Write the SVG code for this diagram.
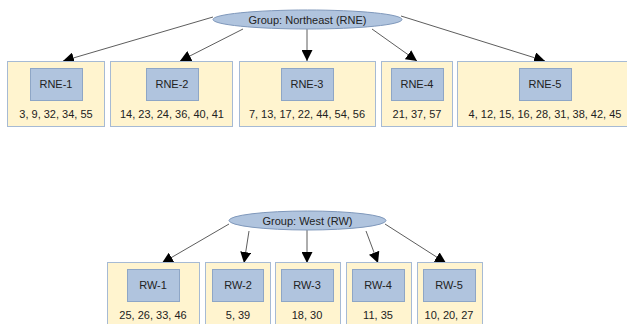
<svg xmlns="http://www.w3.org/2000/svg" width="627" height="324" viewBox="0 0 627 324">
<style>
.c{fill:#fff4cf;stroke:#a6bad4;stroke-width:1}
.b{fill:#b0c4de;stroke:#8ea6c6;stroke-width:1}
.g{fill:#b0c4de;stroke:#7f98bb;stroke-width:1}
text{font-family:"Liberation Sans",Arial,sans-serif;font-size:11px;fill:#222;text-anchor:middle}
.e{stroke:#333;stroke-width:0.8;fill:none;marker-end:url(#a)}
</style>
<defs>
<marker id="a" viewBox="0 0 10 10" refX="10" refY="5" markerWidth="11" markerHeight="11" markerUnits="userSpaceOnUse" orient="auto">
<path d="M0,0L10,5L0,10z" fill="#000"/>
</marker>
</defs>
<g id="connectors">
<line class="e" x1="213" y1="17" x2="63" y2="61"/>
<line class="e" x1="243" y1="29" x2="180" y2="61"/>
<line class="e" x1="307" y1="29" x2="307" y2="61"/>
<line class="e" x1="372" y1="29" x2="417" y2="61"/>
<line class="e" x1="401" y1="16" x2="545" y2="61"/>
<line class="e" x1="229" y1="224" x2="162" y2="263"/>
<line class="e" x1="249" y1="231" x2="244" y2="263"/>
<line class="e" x1="307" y1="230" x2="307" y2="263"/>
<line class="e" x1="366" y1="231" x2="378" y2="263"/>
<line class="e" x1="385" y1="224" x2="446" y2="263"/>
</g>
<g id="group-rne">
<ellipse class="g" cx="307.5" cy="19.5" rx="94.5" ry="9.5"/>
<text x="307.5" y="23.5">Group: Northeast (RNE)</text>
</g>
<g id="rne-1">
<rect class="c" x="7.5" y="61.5" width="97" height="65"/>
<rect class="b" x="30.5" y="68.5" width="52" height="32"/>
<text x="56" y="88">RNE-1</text>
<text x="56" y="118">3, 9, 32, 34, 55</text>
</g>
<g id="rne-2">
<rect class="c" x="110.5" y="61.5" width="122" height="65"/>
<rect class="b" x="146.5" y="68.5" width="52" height="32"/>
<text x="172" y="88">RNE-2</text>
<text x="172" y="118">14, 23, 24, 36, 40, 41</text>
</g>
<g id="rne-3">
<rect class="c" x="239.5" y="61.5" width="136" height="65"/>
<rect class="b" x="281.5" y="68.5" width="52" height="32"/>
<text x="307" y="88">RNE-3</text>
<text x="307" y="118">7, 13, 17, 22, 44, 54, 56</text>
</g>
<g id="rne-4">
<rect class="c" x="381.5" y="61.5" width="71" height="65"/>
<rect class="b" x="391.5" y="68.5" width="52" height="32"/>
<text x="417" y="88">RNE-4</text>
<text x="417" y="118">21, 37, 57</text>
</g>
<g id="rne-5">
<rect class="c" x="457.5" y="61.5" width="172" height="65"/>
<rect class="b" x="519.5" y="68.5" width="52" height="32"/>
<text x="545" y="88">RNE-5</text>
<text x="545" y="118">4, 12, 15, 16, 28, 31, 38, 42, 45</text>
</g>
<g id="group-rw">
<ellipse class="g" cx="307.5" cy="220.5" rx="78.5" ry="9.5"/>
<text x="307.5" y="224.5">Group: West (RW)</text>
</g>
<g id="rw-1">
<rect class="c" x="107.5" y="262.5" width="92" height="70"/>
<rect class="b" x="127.5" y="269.5" width="52" height="32"/>
<text x="153" y="289">RW-1</text>
<text x="153" y="319">25, 26, 33, 46</text>
</g>
<g id="rw-2">
<rect class="c" x="205.5" y="262.5" width="65" height="70"/>
<rect class="b" x="212.5" y="269.5" width="51" height="32"/>
<text x="238" y="289">RW-2</text>
<text x="238" y="319">5, 39</text>
</g>
<g id="rw-3">
<rect class="c" x="275.5" y="262.5" width="65" height="70"/>
<rect class="b" x="281.5" y="269.5" width="52" height="32"/>
<text x="307" y="289">RW-3</text>
<text x="307" y="319">18, 30</text>
</g>
<g id="rw-4">
<rect class="c" x="346.5" y="262.5" width="65" height="70"/>
<rect class="b" x="352.5" y="269.5" width="52" height="32"/>
<text x="378" y="289">RW-4</text>
<text x="378" y="319">11, 35</text>
</g>
<g id="rw-5">
<rect class="c" x="417.5" y="262.5" width="65" height="70"/>
<rect class="b" x="423.5" y="269.5" width="52" height="32"/>
<text x="449" y="289">RW-5</text>
<text x="449" y="319">10, 20, 27</text>
</g>
</svg>
